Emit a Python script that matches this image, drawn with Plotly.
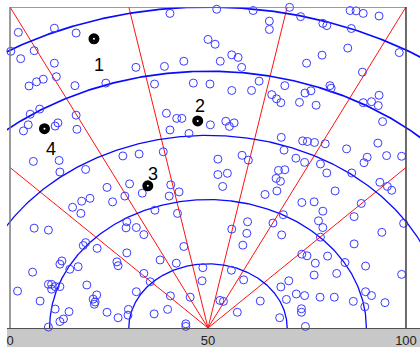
import numpy as np
import plotly.graph_objects as go

# Scattered observations (open blue circles)
obs_x = [
    2.1, 11.2, 16.7, 0.2, 6.1, 2.7, 11.2, 40.4, 50.0, 31.8, 39.0, 43.9, 4.8, 6.7, 8.4, 11.7,
    16.4, 24.2, 36.5, 46.3, 50.5, 52.2, 61.4, 70.6, 65.5, 65.5, 73.4, 79.0, 80.0, 85.9, 87.4,
    89.2, 93.2, 86.2, 51.8, 56.0, 57.6, 53.1, 58.5, 74.9, 78.8, 85.3, 89.0, 98.3, 62.9, 80.8,
    81.1, 69.4,
    5.1, 7.5, 4.6, 3.4, 12.1, 11.4, 16.7, 16.9, 39.5, 42.1, 43.4, 40.4, 45.2, 50.6, 5.9, 12.4,
    12.6, 19.1, 28.5, 32.6, 38.7, 56.0, 61.0, 66.1, 67.3, 68.4, 74.5, 76.0, 73.1, 77.3, 89.2,
    91.3, 93.2, 93.0, 94.1, 54.5, 55.4, 56.6, 68.5, 73.9, 75.1, 76.9, 79.6, 85.0, 92.9, 52.5,
    58.6, 60.2, 69.2, 72.2, 74.4, 78.4, 90.2, 89.4, 95.1, 98.9, 52.5, 54.9, 67.8, 69.4, 80.0,
    86.3,
    24.5, 30.2, 29.0, 33.4, 25.9, 20.2, 18.1, 15.8, 17.9, 6.1, 9.7, 29.5, 29.3, 31.9, 33.8,
    36.6, 40.2, 40.6, 42.7, 42.3, 43.9, 18.5, 19.1, 22.0, 29.5, 42.0, 37.9, 27.0, 27.3, 33.8,
    35.4, 48.7, 48.5, 40.5, 31.9, 45.5, 39.8, 36.4, 29.9, 29.8, 27.3, 24.5, 21.9, 21.0, 21.5,
    21.3, 19.4, 17.2, 15.1, 13.1, 12.6, 5.7, 1.9, 7.6, 9.7, 10.5, 11.4, 12.6, 10.5, 11.4, 14.9,
    13.5, 12.6, 9.7, 44.4, 44.4,
    53.7, 67.2, 68.3, 64.4, 67.4, 73.7, 76.8, 79.0, 82.1, 93.4, 95.3, 96.4, 88.7, 86.9, 77.9,
    79.0, 66.4, 69.0, 60.0, 56.0, 59.8, 68.6, 78.4, 93.9, 99.4, 86.9, 58.8, 73.7, 75.0, 80.2,
    77.1, 84.6, 89.8, 82.5, 76.8, 70.4, 68.4, 98.9, 55.9, 59.0, 72.3, 74.4, 69.8, 78.3, 81.9,
    86.7, 89.8, 91.3, 94.7, 89.6, 73.6, 73.6, 63.2, 53.0, 53.9, 57.4, 68.1, 74.6,
]
obs_y = [
    92.1, 93.4, 91.9, 86.2, 86.4, 83.9, 82.5, 98.0, 89.9, 81.2, 81.5, 83.1, 75.4, 76.7, 77.5, 78.3,
    75.5, 76.3, 76.0, 76.3, 76.0, 99.3, 98.9, 99.9, 95.6, 93.0, 97.0, 94.9, 94.2, 98.9, 98.8,
    98.0, 97.2, 93.3, 88.4, 85.1, 84.3, 83.1, 81.2, 82.5, 85.0, 87.2, 79.7, 85.8, 76.9, 75.5,
    74.7, 75.5,
    66.6, 68.2, 63.3, 61.4, 63.9, 62.9, 66.3, 61.9, 66.9, 65.3, 65.3, 61.7, 60.6, 63.3, 51.9, 52.2,
    48.6, 49.4, 53.6, 54.2, 54.9, 74.0, 74.0, 72.7, 71.4, 70.2, 73.2, 73.9, 70.3, 69.4, 70.2,
    70.5, 72.5, 69.3, 64.3, 64.4, 62.8, 63.9, 59.4, 58.3, 58.1, 57.8, 57.4, 55.8, 57.6, 52.6,
    53.8, 52.3, 55.4, 52.9, 51.6, 51.1, 53.2, 51.5, 53.7, 53.5, 47.8, 48.2, 49.1, 49.3, 48.3,
    48.3,
    43.8, 44.9, 41.1, 42.0, 39.3, 40.4, 39.5, 37.6, 35.7, 31.1, 30.5, 33.1, 31.2, 31.3, 29.1,
    36.7, 41.1, 44.6, 42.4, 35.7, 25.4, 25.7, 26.6, 24.8, 23.4, 20.2, 21.2, 20.6, 19.4, 17.0,
    14.4, 18.8, 14.7, 10.0, 11.3, 9.6, 5.8, 4.4, 5.8, 4.0, 3.2, 4.9, 10.3, 9.0, 8.1,
    7.4, 13.4, 19.1, 18.3, 20.9, 19.9, 17.4, 11.5, 8.4, 13.6, 13.6, 12.9, 12.9, 12.1, 5.9, 5.1,
    2.8, 2.0, 0.3, 1.3, 0.5,
    44.1, 46.6, 45.7, 41.6, 42.7, 39.1, 39.3, 36.4, 42.7, 45.4, 44.1, 42.9, 38.8, 34.7, 33.4,
    31.3, 32.7, 35.3, 33.1, 30.8, 29.5, 29.0, 28.3, 29.8, 32.6, 26.2, 25.8, 23.0, 22.5, 22.4,
    20.2, 20.4, 19.3, 17.0, 16.5, 14.7, 12.8, 16.7, 18.0, 15.0, 10.6, 10.1, 8.9, 9.6, 9.6,
    8.3, 11.3, 10.1, 7.9, 6.6, 6.0, 4.9, 8.4, 8.6, 8.3, 4.9, 3.2, 0.5,
]

# Highlighted, numbered sites
site_x = [21.2, 47.4, 34.8, 8.7]
site_y = [90.1, 64.5, 44.3, 62.1]
site_labels = ["1", "2", "3", "4"]
site_label_shift = [(5, -26), (2, 15), (5, 12), (7, -20)]

# Polar grid around the origin point at the bottom centre
origin = (50, 0)
ring_radii = [20, 40, 60, 80, 100]
ray_end_x = [0, 0, 30, 70, 100, 100]
ray_end_y = [50, 100, 100, 100, 100, 50]

# Bottom axis labels
tick_vals = [0, 50, 100]
tick_text = ["0", "50", "100"]

fig = go.Figure()

# Radial spokes
rx, ry = [], []
for ex, ey in zip(ray_end_x, ray_end_y):
    rx += [origin[0], ex, None]
    ry += [origin[1], ey, None]
fig.add_trace(go.Scatter(x=rx, y=ry, mode="lines",
                         line=dict(color="#ff1010", width=1), hoverinfo="skip"))

# Concentric rings
theta = np.linspace(0, np.pi, 500)
for r in ring_radii:
    fig.add_trace(go.Scatter(x=origin[0] + r * np.cos(theta), y=origin[1] + r * np.sin(theta),
                             mode="lines",
                             line=dict(color="#0a0aff", width=1.3 if r < 80 else 1.7),
                             hoverinfo="skip"))

# Observations
fig.add_trace(go.Scatter(x=obs_x, y=obs_y, mode="markers", cliponaxis=False,
                         marker=dict(symbol="circle-open", size=8, color="#3a3aff",
                                     line=dict(width=1))))

# Numbered sites: solid black discs with a small light centre
fig.add_trace(go.Scatter(x=site_x, y=site_y, mode="markers", cliponaxis=False,
                         marker=dict(symbol="circle-open", size=6.5, color="black",
                                     line=dict(width=4.5))))

for sx, sy, lab, (dx, dy) in zip(site_x, site_y, site_labels, site_label_shift):
    fig.add_annotation(x=sx, y=sy, text=lab, showarrow=False, xshift=dx, yshift=dy,
                       font=dict(family="Liberation Sans, Arial", size=18, color="black"))

plot_h = 347 - 7 - 19
shapes = [
    # grey strip under the plot
    dict(type="rect", xref="paper", yref="paper", x0=0, x1=1, y0=-19 / plot_h, y1=0,
         fillcolor="#c8c8c8", line=dict(width=0), layer="below"),
    # frame
    dict(type="line", xref="x", yref="y", x0=0, x1=0, y0=0, y1=100,
         line=dict(color="#7a7a7a", width=1.5)),
    dict(type="line", xref="x", yref="y", x0=0, x1=100, y0=100, y1=100,
         line=dict(color="#7a7a7a", width=1.5)),
    dict(type="line", xref="x", yref="y", x0=100, x1=100, y0=0, y1=100,
         line=dict(color="#3c3c3c", width=1.5)),
]

fig.update_layout(
    width=420, height=347,
    margin=dict(l=7, r=0, t=7, b=19),
    paper_bgcolor="white", plot_bgcolor="white",
    showlegend=False,
    shapes=shapes,
    xaxis=dict(range=[-0.76, 103.54], showgrid=False, zeroline=False,
               showline=True, linecolor="#505050", linewidth=1,
               tickvals=tick_vals, ticktext=tick_text, ticks="",
               tickfont=dict(family="Liberation Sans, Arial", size=13, color="#222")),
    yaxis=dict(range=[0, 100], visible=False, showgrid=False, zeroline=False),
)

fig.write_html("out.html")
